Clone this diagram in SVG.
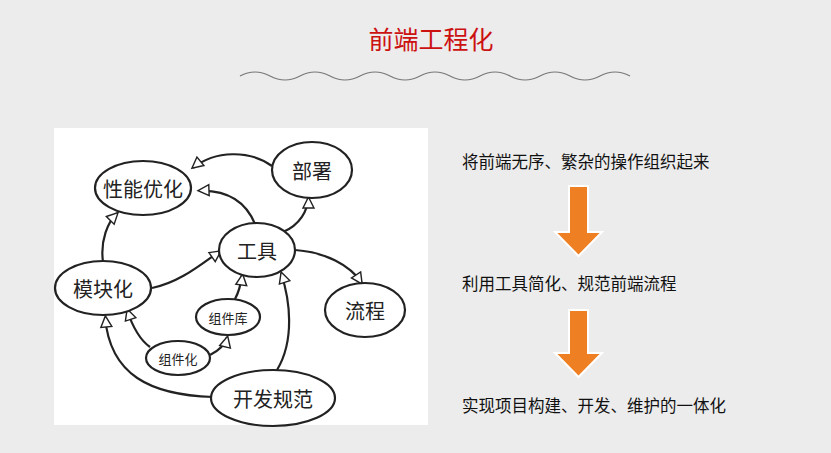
<svg xmlns="http://www.w3.org/2000/svg" width="831" height="453" viewBox="0 0 831 453">
<style>
.n{fill:#fff;stroke:#222;stroke-width:2.2}
.t{font-family:"Noto Sans CJK SC",sans-serif;fill:#222;text-anchor:middle;dominant-baseline:central}
.c{fill:none;stroke:#222;stroke-width:2.2;marker-end:url(#a)}
.r{font-family:"Noto Sans CJK SC",sans-serif;font-size:16.5px;fill:#111}
.o{fill:#ee7f22;stroke:#fff;stroke-width:2}
</style>
<defs>
<marker id="a" viewBox="0 0 10 10" refX="9" refY="5" markerWidth="5" markerHeight="5" orient="auto" markerUnits="userSpaceOnUse" overflow="visible">
<path d="M0,0 L10,5 L0,10 Z" fill="#fff" stroke="#222" stroke-width="1.3" transform="scale(2.2) translate(-5,-2.3)"/>
</marker>
</defs>
<rect width="831" height="453" fill="#ececec"/>
<text x="431" y="38" font-family="Noto Sans CJK SC,sans-serif" font-size="25" fill="#cc1111" text-anchor="middle" dominant-baseline="central">前端工程化</text>
<path d="M240,76 q15,-8 30,0 t30,0 t30,0 t30,0 t30,0 t30,0 t30,0 t30,0 t30,0 t30,0 t30,0 t30,0 t30,0" fill="none" stroke="#777" stroke-width="1.2"/>
<rect x="54" y="128" width="374" height="297" fill="#fff"/>
<g id="connectors">
<path class="c" d="M272,166 C250,150 215,150 193,168"/>
<path class="c" d="M255,224 C245,200 225,190 199,191"/>
<path class="c" d="M283,232 C300,225 308,210 308,198"/>
<path class="c" d="M103,262 C100,240 108,222 117,213"/>
<path class="c" d="M152,288 C180,282 200,265 220,251"/>
<path class="c" d="M295,250 C325,252 350,265 362,283"/>
<path class="c" d="M235,299 C240,290 241,283 242,275"/>
<path class="c" d="M210,355 C220,350 225,345 227,337"/>
<path class="c" d="M150,347 C140,340 132,325 127,310"/>
<path class="c" d="M213,397 C150,395 110,375 105,317"/>
<path class="c" d="M277,370 C295,340 290,300 281,273"/>
</g>
<g id="n1"><ellipse class="n" cx="143" cy="188" rx="48" ry="27"/><text class="t" x="143" y="188" font-size="20">性能优化</text></g>
<g id="n2"><ellipse class="n" cx="312" cy="170" rx="40" ry="28"/><text class="t" x="312" y="170" font-size="20">部署</text></g>
<g id="n3"><ellipse class="n" cx="257" cy="250" rx="38" ry="27"/><text class="t" x="257" y="250" font-size="20">工具</text></g>
<g id="n4"><ellipse class="n" cx="103" cy="288" rx="48" ry="27"/><text class="t" x="103" y="288" font-size="20">模块化</text></g>
<g id="n5"><ellipse class="n" cx="365" cy="310" rx="40" ry="27"/><text class="t" x="365" y="310" font-size="20">流程</text></g>
<g id="n6"><ellipse class="n" cx="228" cy="317" rx="32" ry="18"/><text class="t" x="228" y="317" font-size="13">组件库</text></g>
<g id="n7"><ellipse class="n" cx="178" cy="358" rx="32" ry="17"/><text class="t" x="178" y="358" font-size="13">组件化</text></g>
<g id="n8"><ellipse class="n" cx="273" cy="398" rx="62" ry="28"/><text class="t" x="273" y="398" font-size="20">开发规范</text></g>
<text class="r" x="462" y="168">将前端无序、繁杂的操作组织起来</text>
<text class="r" x="462" y="290">利用工具简化、规范前端流程</text>
<text class="r" x="462" y="412">实现项目构建、开发、维护的一体化</text>
<path class="o" d="M569,186 H588 V232 H602 L578.5,256 L555,232 H569 Z"/>
<path class="o" d="M569,310 H588 V353 H602 L578.5,377 L555,353 H569 Z"/>
</svg>
